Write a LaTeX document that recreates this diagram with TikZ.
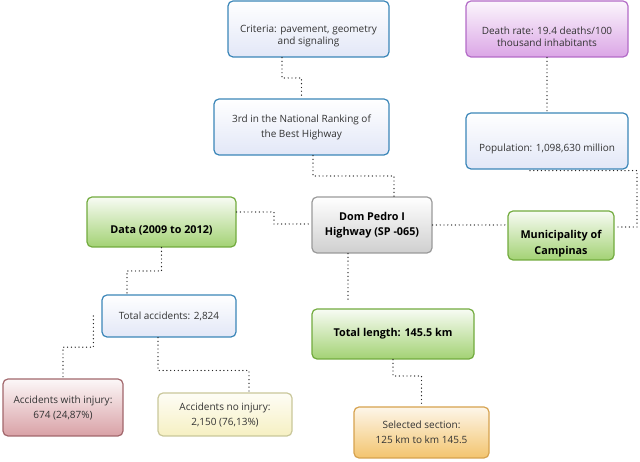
\documentclass[tikz,border=0pt]{standalone}
\usepackage{fontspec}
\setmainfont{Open Sans}
\usetikzlibrary{calc}
\definecolor{bluedraw}{HTML}{3B86B8}
\definecolor{bluefill}{HTML}{E2E7F7}
\definecolor{greendraw}{HTML}{72AB3E}
\definecolor{greenfill}{HTML}{A3D274}
\definecolor{graydraw}{HTML}{9A9A9A}
\definecolor{grayfill}{HTML}{CFCFCF}
\definecolor{purpledraw}{HTML}{B36BC7}
\definecolor{purplefill}{HTML}{DBA6E6}
\definecolor{reddraw}{HTML}{A2676C}
\definecolor{redfill}{HTML}{D9A1A6}
\definecolor{yellowdraw}{HTML}{C9C79A}
\definecolor{yellowfill}{HTML}{F6F0C2}
\definecolor{orangedraw}{HTML}{D6A24E}
\definecolor{orangefill}{HTML}{F3C46E}
\definecolor{ink}{HTML}{333333}
\begin{document}
\begin{tikzpicture}[x=1pt,y=1pt,
    topic/.style={rounded corners=5pt,line width=1.2pt,align=center,inner sep=2pt,
        font=\fontsize{10}{15}\selectfont,text=ink,shading angle=45},
    bluebox/.style={topic,draw=bluedraw,top color=white,bottom color=bluefill},
    greenbox/.style={topic,draw=greendraw,top color=greenfill!8,bottom color=greenfill,
        font=\fontsize{10.8}{15.5}\selectfont\bfseries,text=black},
    graybox/.style={topic,draw=graydraw,top color=white,bottom color=grayfill,
        font=\fontsize{10.8}{15.5}\selectfont\bfseries,text=black},
    purplebox/.style={topic,draw=purpledraw,top color=purplefill!10,bottom color=purplefill},
    redbox/.style={topic,draw=reddraw,top color=redfill!8,bottom color=redfill},
    yellowbox/.style={topic,draw=yellowdraw,top color=yellowfill!15,bottom color=yellowfill},
    orangebox/.style={topic,draw=orangedraw,top color=orangefill!15,bottom color=orangefill},
    low/.style={label={[align=center,text=ink,yshift=-7.5pt]center:#1}},
    lowbold/.style={label={[align=center,font=\fontsize{10.8}{15.5}\selectfont\bfseries,yshift=-8pt]center:#1}},
    link/.style={line width=1.4pt,line cap=round,dash pattern=on 0pt off 3.8pt,black!85},
    vhv/.style={to path={|- ($(\tikztostart)!#1!(\tikztotarget)$) -| (\tikztotarget)}},
    vhv/.default=.5,
    hvh/.style={to path={-| ($(\tikztostart)!.5!(\tikztotarget)$) |- (\tikztotarget)}}]
    \useasboundingbox (0,0) rectangle (640,462);
    \node[bluebox,minimum width=161,minimum height=56,
        low={Criteria: pavement, geometry\\and signaling}] (crit) at (308.5,433) {};
    \node[bluebox,minimum width=175,minimum height=56] (rank) at (301.5,335)
        {3rd in the National Ranking of\\the Best Highway};
    \node[purplebox,minimum width=162,minimum height=56,
        low={Death rate: 19.4 deaths/100\\thousand inhabitants}] (death) at (547,433) {};
    \node[bluebox,minimum width=162,minimum height=56,
        low={Population: 1,098,630 million}] (pop) at (547,321) {};
    \node[greenbox,minimum width=106,minimum height=49,
        lowbold={Municipality of\\Campinas}] (muni) at (561,226.5) {};
    \node[greenbox,minimum width=149,minimum height=50,
        lowbold={Data (2009 to 2012)}] (data) at (161.5,240) {};
    \node[graybox,minimum width=120,minimum height=56] (dom) at (372,237)
        {Dom Pedro I\\Highway (SP -065)};
    \node[bluebox,minimum width=134,minimum height=42] (tacc) at (169,146)
        {Total accidents: 2,824};
    \node[greenbox,minimum width=162,minimum height=50] (tlen) at (393,128)
        {Total length: 145.5 km};
    \node[redbox,minimum width=120,minimum height=57] (inj) at (63,54.5)
        {Accidents with injury:\\674 (24,87\%)};
    \node[yellowbox,minimum width=134,minimum height=43] (noinj) at (225,47.5)
        {Accidents no injury:\\2,150 (76,13\%)};
    \node[orangebox,minimum width=135,minimum height=51] (sel) at (421.5,29.5)
        {Selected section:\\125 km to km 145.5};
    \draw[link] ([xshift=-26.5]crit.south) to[vhv] (rank.north);
    \draw[link] ([xshift=11.5]rank.south) to[vhv] ([xshift=22]dom.north);
    \draw[link] (death.south) -- (pop.north);
    \draw[link] ([xshift=-17,yshift=-1]pop.south) -- ++(107,0) |- ([yshift=8.5]muni.east);
    \draw[link] (dom.east) -- (dom.east -| muni.west);
    \draw[link] ([yshift=10]data.east) to[hvh] ([yshift=1]dom.west);
    \draw[link] ([xshift=-24]dom.south) -- ++(0,-47);
    \draw[link] (data.south) to[vhv] ([xshift=-42]tacc.north);
    \draw[link] ([xshift=-8]tacc.west) to[vhv] (inj.north);
    \draw[link] ([xshift=-11]tacc.south) to[vhv=.6] ([xshift=24]noinj.north);
    \draw[link] (tlen.south) to[vhv=.35] (sel.north);
\end{tikzpicture}
\end{document}
